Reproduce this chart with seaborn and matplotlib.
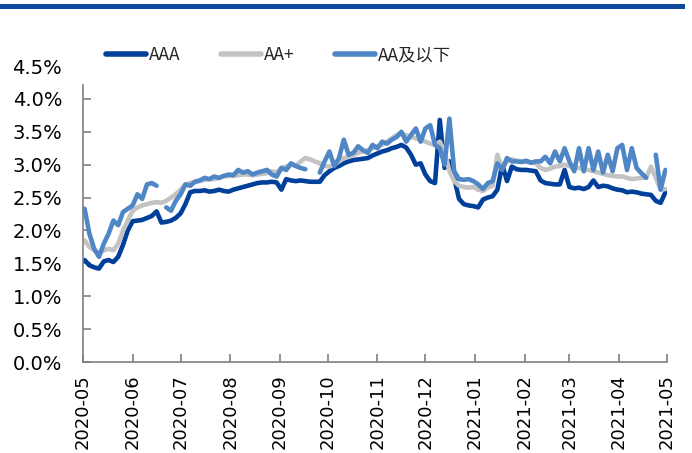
import numpy as np
import pandas as pd
import matplotlib
matplotlib.use("Agg")
import matplotlib.pyplot as plt
import matplotlib.dates as mdates
from matplotlib.patches import Rectangle
from matplotlib.ticker import FuncFormatter, FixedLocator
from matplotlib.font_manager import FontProperties
import seaborn as sns

# Observation dates (every third calendar day)
dates = pd.date_range("2020-05-02", "2021-04-30", freq="3D")

series_names = ["AAA", "AA+", "AA及以下"]

# Yields in percent; NaN marks days without a quote
aaa = [
    1.55, 1.47, 1.44, 1.42, 1.53, 1.55, 1.52, 1.60, 1.78, 2.00,
    2.14, 2.15, 2.16, 2.19, 2.22, 2.29, 2.12, 2.13, 2.15, 2.19,
    2.26, 2.40, 2.58, 2.60, 2.60, 2.61, 2.59, 2.60, 2.62, 2.60,
    2.59, 2.62, 2.64, 2.66, 2.68, 2.70, 2.72, 2.73, 2.73, 2.74,
    2.73, 2.62, 2.78, 2.76, 2.75, 2.76, 2.75, 2.74, 2.74, 2.74,
    2.84, 2.90, 2.95, 2.98, 3.02, 3.05, 3.07, 3.08, 3.09, 3.10,
    3.14, 3.17, 3.20, 3.22, 3.25, 3.27, 3.30, 3.26, 3.15, 3.00,
    3.02, 2.85, 2.75, 2.72, 3.68, 2.95, 3.05, 2.80, 2.48, 2.40,
    2.38, 2.37, 2.35, 2.47, 2.50, 2.52, 2.62, 3.00, 2.75, 2.97,
    2.93, 2.92, 2.92, 2.91, 2.90, 2.76, 2.72, 2.71, 2.70, 2.70,
    2.92, 2.66, 2.64, 2.65, 2.63, 2.66, 2.76, 2.66, 2.68, 2.67,
    2.64, 2.62, 2.61, 2.58, 2.59, 2.58, 2.56, 2.55, 2.54, 2.45,
    2.42, 2.58,
]

aa_plus = [
    1.85, 1.75, 1.70, 1.65, 1.70, 1.72, 1.70, 1.80, 2.00, 2.15,
    2.30, 2.35, 2.38, 2.40, 2.42, 2.43, 2.42, 2.45, 2.50, 2.55,
    2.62, 2.70, 2.72, 2.74, 2.75, 2.77, 2.78, 2.78, 2.80, 2.82,
    2.83, 2.83, 2.84, 2.85, 2.85, 2.84, 2.85, 2.86, 2.87, 2.90,
    2.88, 2.95, 2.97, 3.00, 2.98, 3.05, 3.10, 3.08, 3.05, 3.02,
    2.98, 2.97, 3.00, 3.05, 3.10, 3.12, 3.15, 3.18, 3.20, 3.22,
    3.25, 3.28, 3.30, 3.35, 3.40, 3.45, 3.47, 3.45, 3.42, 3.40,
    3.38, 3.35, 3.32, 3.30, 3.35, 3.20, 2.90, 2.75, 2.68, 2.66,
    2.65, 2.66, 2.62, 2.60, 2.65, 2.68, 3.15, 2.95, 3.05, 3.08,
    3.06, 3.05, 3.04, 3.03, 3.02, 2.95, 2.92, 2.94, 2.97, 2.98,
    3.00, 2.98, 2.96, 2.95, 2.93, 2.92, 2.90, 2.88, 2.86, 2.84,
    2.83, 2.82, 2.82, 2.80, 2.78, 2.79, 2.80, 2.80, 2.97, 2.80,
    2.62, 2.63,
]

aa_below = [
    2.33, 1.95, 1.72, 1.60, 1.80, 1.95, 2.15, 2.08, 2.28, 2.33,
    2.38, 2.55, 2.48, 2.70, 2.72, 2.68, np.nan, 2.35, 2.30, 2.45,
    2.55, 2.70, 2.68, 2.74, 2.76, 2.80, 2.78, 2.82, 2.80, 2.83,
    2.85, 2.84, 2.92, 2.88, 2.90, 2.85, 2.88, 2.90, 2.92, 2.85,
    2.82, 2.95, 2.92, 3.02, 2.98, 2.95, 2.93, np.nan, np.nan, 2.88,
    3.05, 3.20, 2.98, 3.10, 3.38, 3.15, 3.18, 3.28, 3.22, 3.18,
    3.30, 3.25, 3.35, 3.32, 3.38, 3.42, 3.50, 3.35, 3.45, 3.55,
    3.35, 3.55, 3.60, 3.30, 3.25, 3.00, 3.70, 2.90, 2.78, 2.77,
    2.78, 2.75, 2.70, 2.63, 2.72, 2.75, 3.02, 2.92, 3.10, 3.05,
    3.05, 3.04, 3.06, 3.03, 3.05, 3.05, 3.12, 3.02, 3.20, 3.05,
    3.25, 3.05, 2.90, 3.25, 2.90, 3.25, 2.92, 3.20, 2.88, 3.15,
    2.90, 3.25, 3.30, 2.92, 3.25, 2.95, 2.87, 2.80, np.nan, 3.15,
    2.62, 2.92,
]

colors = ["#00409a", "#c3c3c3", "#4f86c6"]

# Long-form table; each unbroken run of quotes becomes its own unit
frames = []
for name, vals in zip(series_names, [aaa, aa_plus, aa_below]):
    s = pd.Series(vals, index=dates, dtype=float)
    seg = s.isna().cumsum()
    part = pd.DataFrame({"date": dates, "value": s.values,
                         "series": name, "seg": seg.values})
    frames.append(part.dropna())
df = pd.concat(frames, ignore_index=True)
df["unit"] = df["series"] + "_" + df["seg"].astype(str)

sns.set_theme(style="white")
plt.rcParams["font.family"] = ["DejaVu Sans", "Noto Sans CJK SC"]

fig = plt.figure(figsize=(6.92, 4.53), dpi=100)
ax = fig.add_axes([83 / 692, 1 - 362 / 453, (667 - 83) / 692, (362 - 66) / 453])

sns.lineplot(data=df, x="date", y="value", hue="series", units="unit",
             estimator=None, hue_order=series_names, palette=colors,
             linewidth=3.3, ax=ax, legend=True, sort=True)
for line in ax.get_lines():
    line.set_solid_capstyle("round")
    line.set_solid_joinstyle("round")

ax.set_xlim(pd.Timestamp("2020-05-01"), pd.Timestamp("2021-05-01"))
ax.set_ylim(0, 4.5)
ax.xaxis.set_major_locator(FixedLocator(mdates.date2num(
    pd.date_range("2020-05-01", "2021-05-01", freq="MS"))))
ax.xaxis.set_major_formatter(mdates.DateFormatter("%Y-%m"))
ax.set_yticks(np.arange(0, 4.51, 0.5))
ax.yaxis.set_major_formatter(FuncFormatter(lambda v, _: f"{v:.1f}%"))
ax.set_xlabel("")
ax.set_ylabel("")

spine_color = "#808080"
for side in ["top", "right"]:
    ax.spines[side].set_visible(False)
for side in ["left", "bottom"]:
    ax.spines[side].set_color(spine_color)
    ax.spines[side].set_linewidth(1.2)
ax.spines["left"].set_bounds(0, 4.21)

ax.tick_params(axis="y", direction="in", length=6, width=1.2, color=spine_color,
               labelsize=14, labelcolor="black", pad=15, left=True)
ax.tick_params(axis="x", direction="in", length=6, width=1.2, color=spine_color,
               labelsize=13, labelcolor="black", pad=9, bottom=True,
               labelrotation=90)
ax.yaxis.get_major_ticks()[-1].tick1line.set_visible(False)
ax.grid(False)

handles, labels = ax.get_legend_handles_labels()
ax.legend(handles, labels, loc="center", bbox_to_anchor=(0.4025, 1 - 55 / 453),
          bbox_transform=fig.transFigure, ncol=3, frameon=False,
          handlelength=2.3, handletextpad=0.2, columnspacing=2.3,
          prop=FontProperties(family=["Liberation Sans Narrow", "Noto Sans CJK SC"],
                              size=12.5))
for h in ax.get_legend().legend_handles:
    h.set_linewidth(4)
    h.set_solid_capstyle("round")

# Header rule across the top of the figure
fig.add_artist(Rectangle((0, 1 - 8.5 / 453), 685 / 692, 4 / 453,
                         transform=fig.transFigure, color="#0b4a9c", lw=0))

fig.savefig("out.png", dpi=100)
